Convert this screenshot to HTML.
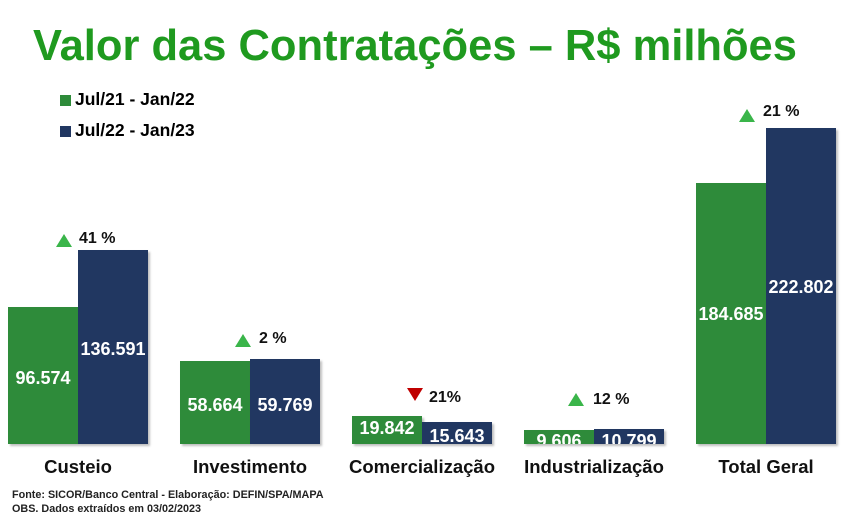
<!DOCTYPE html><html><head><meta charset="utf-8"><style>
body{margin:0;width:845px;height:521px;background:#fff;position:relative;overflow:hidden;font-family:"Liberation Sans",sans-serif;font-weight:bold}
.a{position:absolute;white-space:nowrap}
.b{position:absolute;overflow:hidden;box-shadow:2px 2px 2px rgba(0,0,0,.25)}
.g{background:#2e8b3a}.n{background:#213761}
.v{position:absolute;left:0;right:0;text-align:center;color:#fff;font-size:18px}
.lab{position:absolute;font-size:18.5px;color:#111;text-align:center;width:170px}
.up{width:0;height:0;border-left:8px solid transparent;border-right:8px solid transparent;border-bottom:13px solid #3ab54a;position:absolute}
.dn{width:0;height:0;border-left:8px solid transparent;border-right:8px solid transparent;border-top:13px solid #c00000;position:absolute}
.p{position:absolute;font-size:16px;color:#111}
</style></head><body>
<div class="a" style="left:33px;top:22px;font-size:43.5px;color:#1f9a1f">Valor das Contratações – R$ milhões</div>
<div class="a" style="left:60px;top:95px;width:11px;height:11px;background:#2e8b3a"></div>
<div class="a" style="left:75px;top:89px;font-size:17.5px">Jul/21 - Jan/22</div>
<div class="a" style="left:60px;top:126px;width:11px;height:11px;background:#213761"></div>
<div class="a" style="left:75px;top:120px;font-size:17.5px">Jul/22 - Jan/23</div>

<div class="b g" style="left:8px;top:307px;width:70px;height:137px"><div class="v" style="top:61px">96.574</div></div>
<div class="b n" style="left:78px;top:250px;width:70px;height:194px"><div class="v" style="top:89px">136.591</div></div>
<div class="b g" style="left:180px;top:361px;width:70px;height:83px"><div class="v" style="top:34px">58.664</div></div>
<div class="b n" style="left:250px;top:359px;width:70px;height:85px"><div class="v" style="top:36px">59.769</div></div>
<div class="b g" style="left:352px;top:416px;width:70px;height:28px"><div class="v" style="top:2px">19.842</div></div>
<div class="b n" style="left:422px;top:422px;width:70px;height:22px"><div class="v" style="top:4px">15.643</div></div>
<div class="b g" style="left:524px;top:430px;width:70px;height:14px"><div class="v" style="top:1px">9.606</div></div>
<div class="b n" style="left:594px;top:429px;width:70px;height:15px"><div class="v" style="top:2px">10.799</div></div>
<div class="b g" style="left:696px;top:183px;width:70px;height:261px"><div class="v" style="top:121px">184.685</div></div>
<div class="b n" style="left:766px;top:128px;width:70px;height:316px"><div class="v" style="top:149px">222.802</div></div>

<div class="up" style="left:56px;top:234px"></div><div class="p" style="left:79px;top:230px">41 %</div>
<div class="up" style="left:235px;top:334px"></div><div class="p" style="left:259px;top:330px">2 %</div>
<div class="dn" style="left:407px;top:388px"></div><div class="p" style="left:429px;top:389px">21%</div>
<div class="up" style="left:568px;top:393px"></div><div class="p" style="left:593px;top:391px">12 %</div>
<div class="up" style="left:739px;top:109px"></div><div class="p" style="left:763px;top:103px">21 %</div>

<div class="lab" style="left:-7px;top:456px">Custeio</div>
<div class="lab" style="left:165px;top:456px">Investimento</div>
<div class="lab" style="left:337px;top:456px">Comercialização</div>
<div class="lab" style="left:509px;top:456px">Industrialização</div>
<div class="lab" style="left:681px;top:456px">Total Geral</div>
<div class="a" style="left:12px;top:489px;font-size:10.8px;color:#222">Fonte: SICOR/Banco Central - Elaboração: DEFIN/SPA/MAPA</div>
<div class="a" style="left:12px;top:503px;font-size:10.8px;color:#222">OBS. Dados extraídos em 03/02/2023</div>
</body></html>
